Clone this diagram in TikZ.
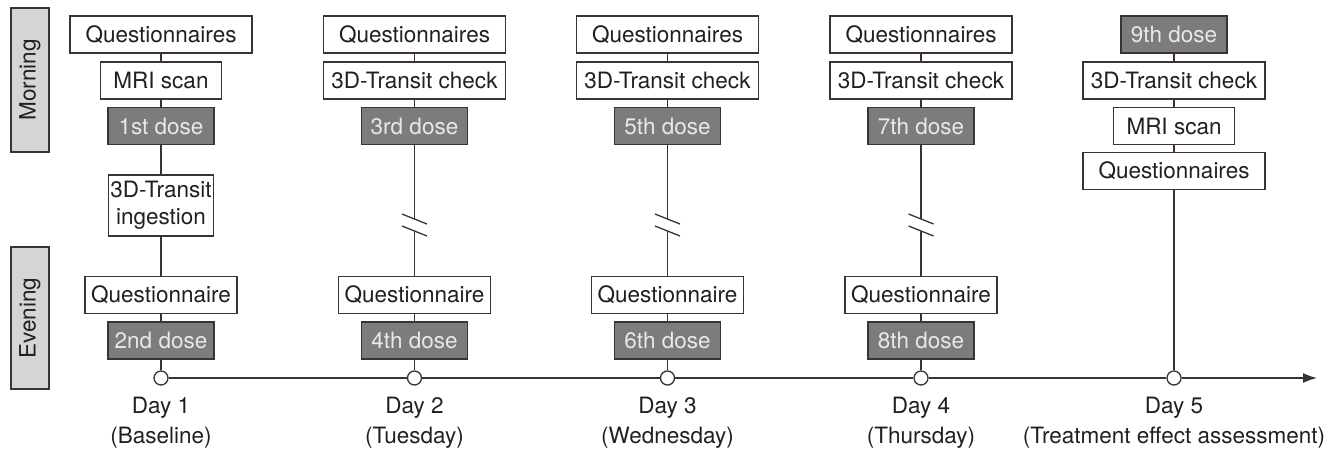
\documentclass[tikz,border=0pt]{standalone}
\usepackage{fontspec}
\setmainfont{TeX Gyre Heros}
\usetikzlibrary{arrows.meta}
\definecolor{ink}{HTML}{231F20}
\definecolor{lnc}{HTML}{3A3331}
\definecolor{dosefill}{HTML}{7C7C7C}
\definecolor{dosetext}{HTML}{E8E8E8}
\definecolor{labfill}{HTML}{D5D5D5}
\begin{document}
\begin{tikzpicture}[x=1pt,y=-1pt,
  every node/.style={font=\fontsize{22.5}{30}\selectfont, text=ink},
  wbox/.style={draw=lnc, line width=1.3pt, fill=white, minimum height=37pt, inner sep=0pt},
  dbox/.style={draw=lnc, line width=1.3pt, fill=dosefill, text=dosetext, minimum height=37pt, minimum width=106pt, inner sep=0pt},
  sidelab/.style={draw=lnc, line width=1.3pt, fill=labfill, minimum height=38pt, inner sep=0pt, rotate=90},
  dot/.style={circle, draw=lnc, line width=1.3pt, fill=white, minimum size=14pt, inner sep=0pt},
  daylab/.style={align=center},
  conn/.style={draw=lnc, line width=1.3pt}
]
\useasboundingbox (0,0) rectangle (1335,450);

% side labels
\node[sidelab, minimum width=144pt] (morning) at (30,80) {Morning};
\node[sidelab, minimum width=142pt] (evening) at (30,318) {Evening};

% Day 1
\node[wbox, minimum width=182pt] (qm1) at (161,34.5) {Questionnaires};
\node[wbox, minimum width=121pt] (mri1) at (161,80.5) {MRI scan};
\node[dbox] (da1) at (161,126) {1st dose};
\node[wbox, minimum width=105pt, minimum height=61pt, align=center] (ing1) at (161,205.5) {3D-Transit\\[-3pt]ingestion};
\node[wbox, minimum width=152pt] (qe1) at (161,295) {Questionnaire};
\node[dbox] (db1) at (161,340.5) {2nd dose};
\node[dot] (c1) at (161,378) {};
\node[daylab] (l1) at (161,423) {Day 1\\(Baseline)};
\draw[conn] (qm1) -- (mri1);
\draw[conn] (mri1) -- (da1);
\draw[conn] (da1) -- (ing1);
\draw[conn] (ing1) -- (qe1);
\draw[conn] (qe1) -- (db1);
\draw[conn] (db1) -- (c1);

% Days 2-4
\foreach \i/\cx/\xa/\xb/\wkd in {2/414.5/3rd/4th/Tuesday,3/667.5/5th/6th/Wednesday,4/921/7th/8th/Thursday}{
  \node[wbox, minimum width=182pt] (qm\i) at (\cx,34.5) {Questionnaires};
  \node[wbox, minimum width=182pt] (tc\i) at (\cx,80.5) {3D-Transit check};
  \node[dbox] (da\i) at (\cx,126) {\xa\ dose};
  \coordinate (ba\i) at (\cx,219);
  \coordinate (bb\i) at (\cx,231);
  \node[wbox, minimum width=152pt] (qe\i) at (\cx,295) {Questionnaire};
  \node[dbox] (db\i) at (\cx,340.5) {\xb\ dose};
  \node[dot] (c\i) at (\cx,378) {};
  \node[daylab] (l\i) at (\cx,423) {Day \i\\(\wkd)};
  \draw[conn] (qm\i) -- (tc\i);
  \draw[conn] (tc\i) -- (da\i);
  \draw[conn] (da\i) -- (ba\i);
  \draw[conn] (ba\i) ++(-12.5,-5) -- ++(25,10);
  \draw[conn] (bb\i) ++(-12.5,-5) -- ++(25,10);
  \draw[conn] (bb\i) -- (qe\i);
  \draw[conn] (qe\i) -- (db\i);
  \draw[conn] (db\i) -- (c\i);
}

% Day 5
\node[dbox] (da5) at (1174,34.5) {9th dose};
\node[wbox, minimum width=182pt] (tc5) at (1174,80.5) {3D-Transit check};
\node[wbox, minimum width=121pt] (mri5) at (1174,126) {MRI scan};
\node[wbox, minimum width=182pt] (qm5) at (1174,171) {Questionnaires};
\node[dot] (c5) at (1174,378) {};
\node[daylab] (l5) at (1174,423) {Day 5\\(Treatment effect assessment)};
\draw[conn] (da5) -- (tc5);
\draw[conn] (tc5) -- (mri5);
\draw[conn] (mri5) -- (qm5);
\draw[conn] (qm5) -- (c5);

% timeline
\coordinate (tip) at (1317,378);
\draw[conn] (c1) -- (c2);
\draw[conn] (c2) -- (c3);
\draw[conn] (c3) -- (c4);
\draw[conn] (c4) -- (c5);
\draw[conn, -{Latex[length=14pt,width=10pt]}] (c5) -- (tip);
\end{tikzpicture}
\end{document}
